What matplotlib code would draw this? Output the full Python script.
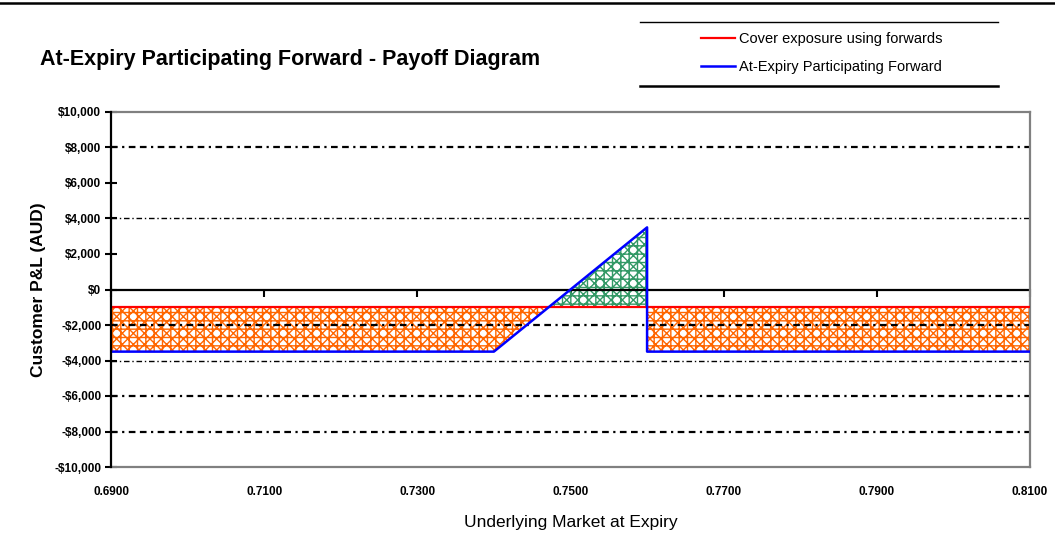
import matplotlib
matplotlib.use("Agg")
import matplotlib.pyplot as plt
from matplotlib.lines import Line2D
from matplotlib.ticker import FuncFormatter
import numpy as np

# payoff data (AUD) against spot at expiry
spot = [0.69, 0.74, 0.76, 0.76, 0.81]
participating = [-3500, -3500, 3500, -3500, -3500]
forward_cover = [-1000, -1000, -1000, -1000, -1000]

x_ticks = [0.69, 0.71, 0.73, 0.75, 0.77, 0.79, 0.81]
y_ticks = list(range(-10000, 10001, 2000))
grid_bold = [8000, -2000, -6000, -8000]
grid_thin = [4000, -4000]

RED = "#FF0000"
BLUE = "#0000FF"
ORANGE = "#FF6600"
GREEN = "#339966"
GREY = "#808080"

plt.rcParams["font.family"] = ["Liberation Sans", "DejaVu Sans"]
plt.rcParams["hatch.linewidth"] = 1.0

fig = plt.figure(figsize=(10.55, 5.36), dpi=100)
ax = fig.add_axes([111 / 1055, 69 / 536, 919 / 1055, 355 / 536])

# hatched regions between the two payoffs
p = np.array(participating)
f = np.array(forward_cover)
ax.fill_between(spot, p, f, where=p <= f, interpolate=True,
                facecolor="none", edgecolor=ORANGE, hatch="xxx++", linewidth=0)
ax.fill_between(spot, p, f, where=p >= f, interpolate=True,
                facecolor="none", edgecolor=GREEN, hatch="xxx++", linewidth=0)

# gridlines
for g in grid_bold:
    ax.axhline(g, color="black", lw=1.6, ls=(0, (3, 2, 1, 2, 3, 2)), zorder=1)
for g in grid_thin:
    ax.axhline(g, color="black", lw=1.0, ls=(0, (4, 2, 1, 2)), zorder=1)
ax.axhline(0, color="black", lw=1.6, zorder=2)

l1, = ax.plot(spot, forward_cover, color=RED, lw=1.6, zorder=3)
l2, = ax.plot(spot, participating, color=BLUE, lw=1.8, zorder=4)

ax.set_xlim(0.69, 0.81)
ax.set_ylim(-10000, 10000)
ax.set_xticks(x_ticks)
ax.set_xticklabels([f"{v:.4f}" for v in x_ticks])
ax.set_yticks(y_ticks)


def money(v, pos):
    v = int(v)
    return f"${v:,}" if v >= 0 else f"-${-v:,}"


ax.yaxis.set_major_formatter(FuncFormatter(money))

for s in ["top", "right", "bottom"]:
    ax.spines[s].set_color(GREY)
    ax.spines[s].set_linewidth(1.6)
ax.spines["left"].set_linewidth(1.6)
ax.spines["left"].set_zorder(5)

ax.tick_params(axis="x", length=0, pad=14, labelsize=8.5)
ax.tick_params(axis="y", direction="inout", length=8, width=1.5, labelsize=8.5, pad=3)
for lab in ax.get_xticklabels() + ax.get_yticklabels():
    lab.set_fontweight("bold")

# tick marks along the zero line
sec = ax.secondary_xaxis(0.5)
sec.set_xticks(x_ticks)
sec.tick_params(direction="in", length=6, width=1.5, labelbottom=False, labeltop=False)
sec.spines["bottom"].set_visible(False)
sec.spines["top"].set_visible(False)

ax.set_xlabel("Underlying Market at Expiry", fontsize=12.5, labelpad=12)
ax.set_ylabel("Customer P&L (AUD)", fontsize=12.5, fontweight="bold", labelpad=6)

fig.text(40 / 1055, 1 - 60 / 536, "At-Expiry Participating Forward - Payoff Diagram",
         fontsize=15.5, fontweight="bold", va="center", ha="left")

leg = fig.legend([l1, l2], ["Cover exposure using forwards", "At-Expiry Participating Forward"],
                 loc="center left", bbox_to_anchor=(688 / 1055, 1 - 53 / 536),
                 frameon=False, fontsize=10.5, handlelength=2.3, handletextpad=0.3,
                 labelspacing=1.0)
fig.add_artist(Line2D([640 / 1055, 998 / 1055], [1 - 22 / 536] * 2, color="black", lw=1.0))
fig.add_artist(Line2D([640 / 1055, 998 / 1055], [1 - 86 / 536] * 2, color="black", lw=1.8))
fig.add_artist(Line2D([0, 1], [1 - 3 / 536] * 2, color="black", lw=1.8))

fig.savefig("out.png", dpi=100)
